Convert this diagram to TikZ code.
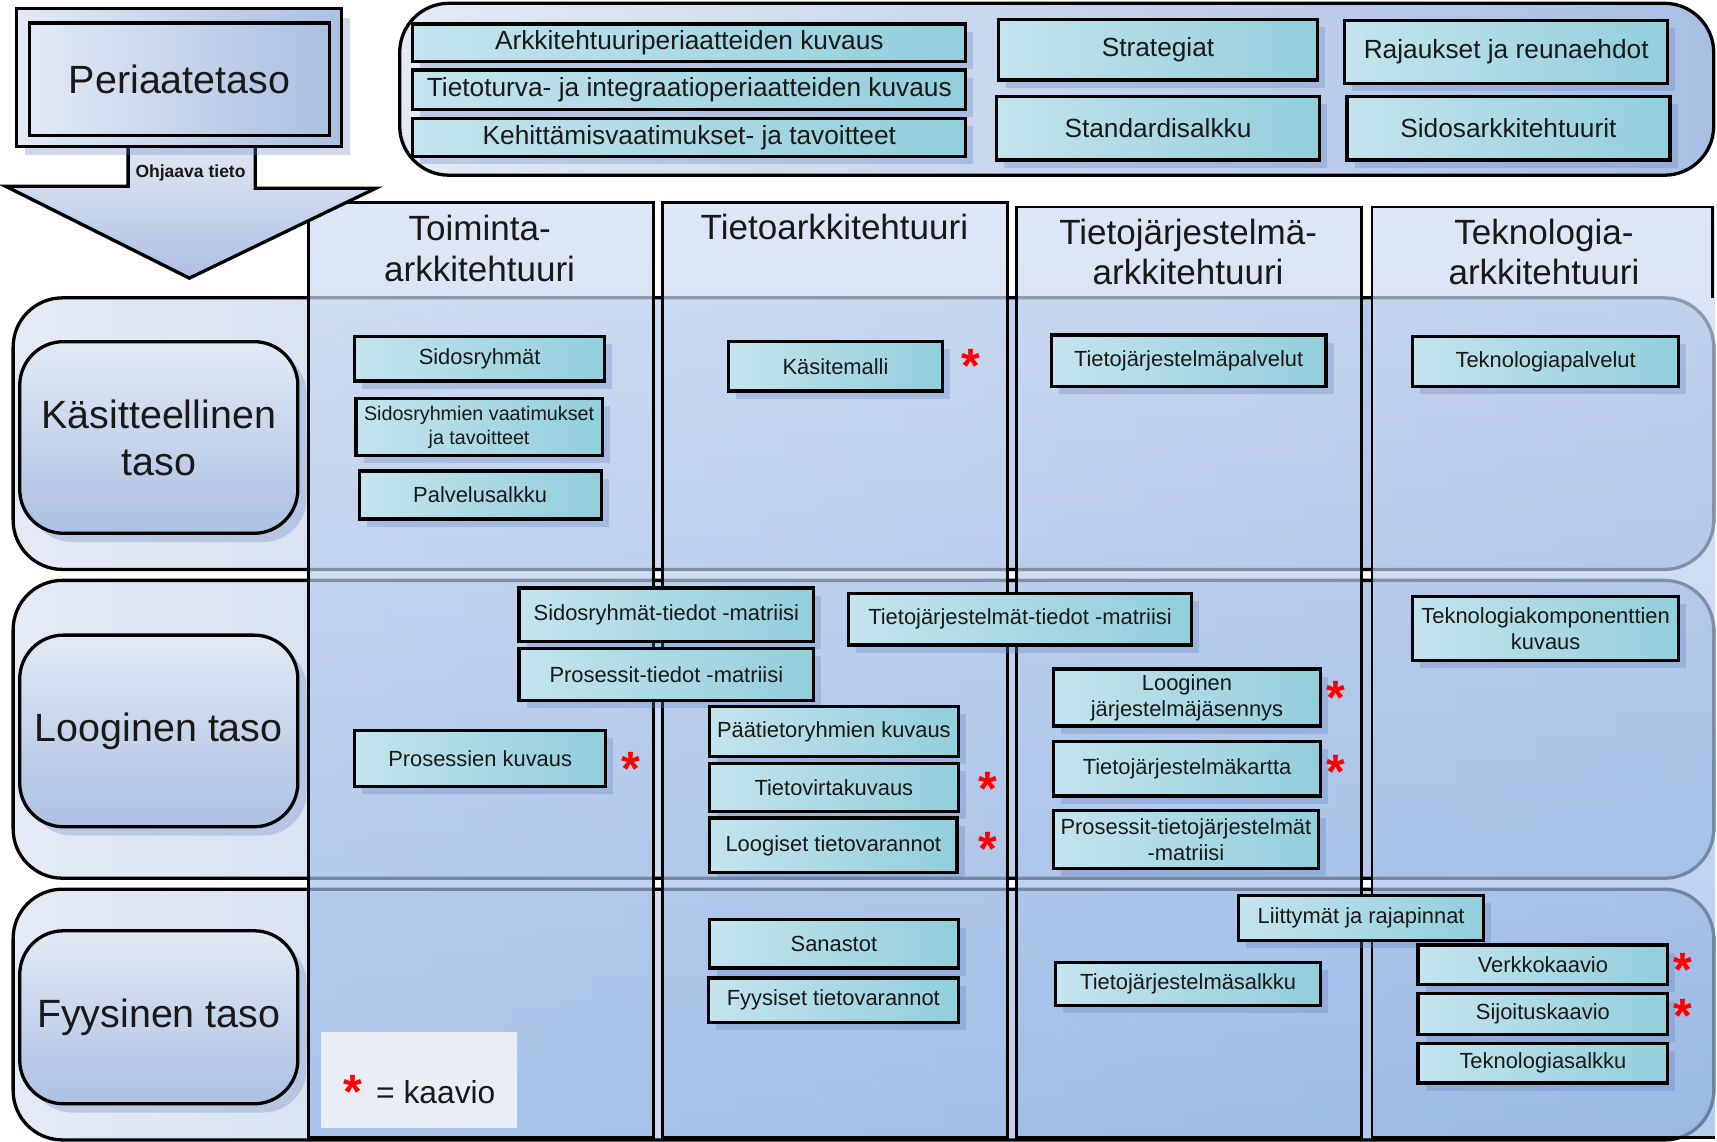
\documentclass[tikz,border=0pt]{standalone}
\usepackage{fontspec}
\setmainfont{Liberation Sans}
\usetikzlibrary{shadows}

\definecolor{teksti}{RGB}{25,25,25}
\definecolor{pohja1}{RGB}{228,234,245}
\definecolor{pohja2}{RGB}{168,191,228}
\definecolor{sarake1}{RGB}{208,221,242}
\definecolor{sarake2}{RGB}{150,183,230}
\definecolor{taso1}{RGB}{226,233,245}
\definecolor{taso2}{RGB}{172,192,226}
\definecolor{laatikko1}{RGB}{196,228,238}
\definecolor{laatikko3}{RGB}{162,213,225}
\definecolor{laatikko2}{RGB}{146,206,219}
\definecolor{varjo}{RGB}{100,130,190}
\definecolor{selite}{RGB}{233,237,246}

\begin{document}
\begin{tikzpicture}[%
    x=1pt, y=-1pt,
    pohja/.style={
      draw=black,
      line width=3pt,
      rounded corners=45pt,
      left color=pohja1,
      right color=pohja2
    },
    sarake/.style={
      draw=black,
      line width=2.5pt,
      top color=sarake1,
      bottom color=sarake2,
      fill opacity=0.7
    },
    nuoli/.style={
      draw=black,
      line width=3pt,
      top color=taso1,
      bottom color=taso2
    },
    kehys/.style={
      rectangle,
      draw=black,
      line width=3pt,
      left color=taso1,
      right color=taso2
    },
    tasonimi/.style={
      rectangle,
      draw=black,
      line width=3pt,
      rounded corners=40pt,
      top color=taso1,
      bottom color=taso2,
      minimum width=254pt,
      align=center,
      text=teksti,
      font=\fontsize{36}{43}\selectfont,
      drop shadow={shadow xshift=8pt, shadow yshift=-8pt, fill=varjo, opacity=0.3}
    },
    laatikko/.style={
      rectangle,
      draw=black,
      line width=3pt,
      left color=laatikko1,
      middle color=laatikko3,
      right color=laatikko2,
      align=center,
      inner sep=1pt,
      text=teksti,
      font=\fontsize{20}{24}\selectfont,
      drop shadow={shadow xshift=7pt, shadow yshift=-7pt, fill=varjo, opacity=0.3}
    },
    isolaatikko/.style={laatikko, font=\fontsize{24}{28}\selectfont},
    otsikko/.style={align=center, text=teksti, font=\fontsize{32}{37}\selectfont},
    tahti/.style={anchor=north, inner sep=0pt, text=red, font=\fontsize{44}{44}\selectfont\bfseries}
  ]
    \useasboundingbox (0,0) rectangle (1568,1042);

    % taustat
    \draw[pohja] (365,3) rectangle (1565,160);
    \draw[pohja] (12,272) rectangle (1565,520);
    \draw[pohja] (12,530) rectangle (1565,802);
    \draw[pohja] (12,812) rectangle (1565,1041);

    % sarakkeet
    \draw[sarake] (282,185) rectangle (597,1039);
    \draw[sarake] (605,185) rectangle (920,1039);
    \draw[sarake] (928,189) rectangle (1243,1039);
    \path[sarake, draw=none] (1253,189) rectangle (1566,1039);
    \draw[line width=2.5pt] (1564,272) -- (1564,189) -- (1253,189) -- (1253,1039) -- (1566,1039);

    \node[otsikko] (toim) at (438,227) {Toiminta-\\arkkitehtuuri};
    \node[otsikko] (tieto) at (762,207) {Tietoarkkitehtuuri};
    \node[otsikko] (tjarj) at (1085,230) {Tietojärjestelmä-\\arkkitehtuuri};
    \node[otsikko] (tekno) at (1410,230) {Teknologia-\\arkkitehtuuri};

    % periaatetaso ja nuoli
    \draw[nuoli] (117,130) -- (117,170) -- (5,170) -- (173,254) -- (343,172) -- (233,172) -- (233,130);
    \node[kehys, minimum width=297pt, minimum height=126pt,
      drop shadow={shadow xshift=8pt, shadow yshift=-8pt, fill=varjo, opacity=0.3}] (periulko) at (163.5,71) {};
    \node[kehys, minimum width=274pt, minimum height=103pt, text=teksti,
      font=\fontsize{36}{40}\selectfont] (peri) at (164,72.5) {Periaatetaso};
    \node[text=teksti, font=\fontsize{16}{18}\selectfont\bfseries] (ohjaava) at (174,158) {Ohjaava tieto};

    \node[isolaatikko, minimum width=505pt, minimum height=34pt] (arkper) at (629.5,39) {Arkkitehtuuriperiaatteiden kuvaus};
    \node[isolaatikko, minimum width=505pt, minimum height=36pt] (tietot) at (629.5,82) {Tietoturva- ja integraatioperiaatteiden kuvaus};
    \node[isolaatikko, minimum width=505pt, minimum height=35pt] (kehit) at (629.5,125.5) {Kehittämisvaatimukset- ja tavoitteet};
    \node[isolaatikko, minimum width=291pt, minimum height=55pt] (strat) at (1057.5,45.5) {Strategiat};
    \node[isolaatikko, minimum width=295pt, minimum height=57pt] (rajauk) at (1375.5,47.5) {Rajaukset ja reunaehdot};
    \node[isolaatikko, minimum width=295pt, minimum height=58pt] (stand) at (1057.5,117) {Standardisalkku};
    \node[isolaatikko, minimum width=295pt, minimum height=58pt] (sidark) at (1377.5,117) {Sidosarkkitehtuurit};

    % tasot
    \node[tasonimi, minimum height=175pt] (kasit) at (145,399.5) {Käsitteellinen\\taso};
    \node[tasonimi, minimum height=175pt] (loog) at (145,667.5) {Looginen taso};
    \node[tasonimi, minimum height=158pt] (fyys) at (145,929) {Fyysinen taso};

    % toiminta-arkkitehtuuri
    \node[laatikko, minimum width=228pt, minimum height=41pt] (sidos) at (438,327.5) {Sidosryhmät};
    \node[laatikko, minimum width=225pt, minimum height=52pt, font=\fontsize{18}{22}\selectfont] (sidvaat) at (437.5,390) {Sidosryhmien vaatimukset\\ja tavoitteet};
    \node[laatikko, minimum width=221pt, minimum height=44pt] (palv) at (438.5,452) {Palvelusalkku};
    \node[laatikko, minimum width=229pt, minimum height=51pt] (proskuv) at (438.5,692.5) {Prosessien kuvaus};

    % tietoarkkitehtuuri
    \node[laatikko, minimum width=196pt, minimum height=45pt] (kasmal) at (763,334.5) {Käsitemalli};
    \node[laatikko, minimum width=269pt, minimum height=49pt] (sidmat) at (608.5,561.5) {Sidosryhmät-tiedot -matriisi};
    \node[laatikko, minimum width=269pt, minimum height=48pt] (prosmat) at (608.5,616) {Prosessit-tiedot -matriisi};
    \node[laatikko, minimum width=227pt, minimum height=46pt] (paatiet) at (761.5,668) {Päätietoryhmien kuvaus};
    \node[laatikko, minimum width=227pt, minimum height=44pt] (tvirta) at (761.5,719) {Tietovirtakuvaus};
    \node[laatikko, minimum width=226pt, minimum height=50pt] (loogvar) at (761,772) {Loogiset tietovarannot};
    \node[laatikko, minimum width=227pt, minimum height=44pt] (sanas) at (761.5,862) {Sanastot};
    \node[laatikko, minimum width=228pt, minimum height=41pt] (fyysvar) at (761,913.5) {Fyysiset tietovarannot};
    \node[laatikko, minimum width=313pt, minimum height=47pt] (tjmat) at (931.5,565.5) {Tietojärjestelmät-tiedot -matriisi};

    % tietojärjestelmäarkkitehtuuri
    \node[laatikko, minimum width=251pt, minimum height=47pt] (tjpalv) at (1085.5,329.5) {Tietojärjestelmäpalvelut};
    \node[laatikko, minimum width=244pt, minimum height=52pt] (loogjas) at (1084,637) {Looginen\\järjestelmäjäsennys};
    \node[laatikko, minimum width=244pt, minimum height=50pt] (tjkart) at (1084,702) {Tietojärjestelmäkartta};
    \node[laatikko, minimum width=242pt, minimum height=53pt] (prostj) at (1083,766.5) {Prosessit-tietojärjestelmät\\-matriisi};
    \node[laatikko, minimum width=224pt, minimum height=41pt] (liitt) at (1243,838.5) {Liittymät ja rajapinnat};
    \node[laatikko, minimum width=242pt, minimum height=39pt] (tjsalk) at (1085,898.5) {Tietojärjestelmäsalkku};

    % teknologia-arkkitehtuuri
    \node[laatikko, minimum width=243pt, minimum height=46pt] (tekpalv) at (1411.5,330) {Teknologiapalvelut};
    \node[laatikko, minimum width=243pt, minimum height=58pt] (tekkomp) at (1411.5,574) {Teknologiakomponenttien\\kuvaus};
    \node[laatikko, minimum width=228pt, minimum height=36pt] (verkko) at (1409,881) {Verkkokaavio};
    \node[laatikko, minimum width=228pt, minimum height=38pt] (sijoit) at (1409,926) {Sijoituskaavio};
    \node[laatikko, minimum width=228pt, minimum height=36pt] (teksalk) at (1409,971) {Teknologiasalkku};

    % kaaviot
    \node[tahti] (t1) at (576,687) {*};
    \node[tahti] (t2) at (887,319) {*};
    \node[tahti] (t3) at (902,705) {*};
    \node[tahti] (t4) at (902,760) {*};
    \node[tahti] (t5) at (1220,622) {*};
    \node[tahti] (t6) at (1220,690) {*};
    \node[tahti] (t7) at (1537,870) {*};
    \node[tahti] (t8) at (1537,912) {*};

    % selite
    \node[fill=selite, minimum width=179pt, minimum height=88pt] (selite) at (382.5,986) {};
    \node[tahti] (selitetahti) at (322,982) {*};
    \node[text=teksti, font=\fontsize{29}{32}\selectfont] (selitekaavio) at (398,997) {= kaavio};

  \end{tikzpicture}
\end{document}
